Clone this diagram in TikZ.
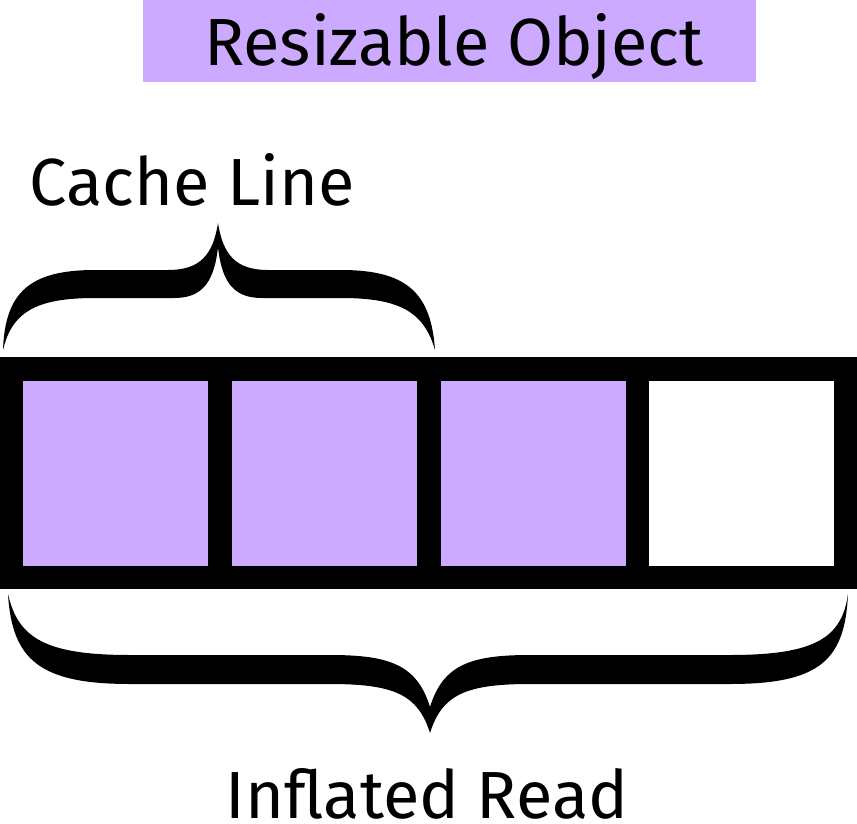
\documentclass[tikz,border=0pt]{standalone}
\usepackage{fontspec}
\setmainfont{Fira Sans}
\definecolor{purp}{HTML}{CCAAFF}
\begin{document}
\begin{tikzpicture}[x=0.75pt,y=-0.75pt,
  cell/.style={draw=none,minimum width=185*0.75pt,minimum height=185*0.75pt,inner sep=0pt},
  lbl/.style={font=\fontsize{50}{54}\selectfont,anchor=base,inner sep=0pt},
  brace/.style={fill=black,draw=none}]
\useasboundingbox (0,0) rectangle (857,824);
% title
\node[fill=purp,minimum width=613*0.75pt,minimum height=82*0.75pt,inner sep=0pt] (titlebox) at (449.5,41) {};
\node[lbl] (title) at (454,65) {Resizable Object};
% bar
\node[fill=black,minimum width=857*0.75pt,minimum height=232*0.75pt,inner sep=0pt] (bar) at (428.5,473) {};
\node[cell,fill=purp] (c1) at (115.5,473.5) {};
\node[cell,fill=purp] (c2) at (324.5,473.5) {};
\node[cell,fill=purp] (c3) at (533,473.5) {};
\node[cell,fill=white] (c4) at (741,473.5) {};
% top brace
\fill[brace] (3,350) .. controls (5,292) and (30,270) .. (95,270)
  -- (168,270) .. controls (200,270) and (213,255) .. (218,223)
  .. controls (223,255) and (236,270) .. (268,270)
  -- (341,270) .. controls (406,270) and (431,292) .. (435,350)
  .. controls (424,312) and (400,298) .. (341,298)
  -- (262,298) .. controls (236,298) and (222,285) .. (218,247)
  .. controls (214,285) and (200,298) .. (174,298)
  -- (95,298) .. controls (36,298) and (12,312) .. (3,350) -- cycle;
\node[lbl] (cache) at (192,205) {Cache Line};
% bottom brace
\fill[brace] (8,594) .. controls (12,660) and (40,684) .. (130,684)
  -- (330,684) .. controls (395,684) and (418,695) .. (430,733)
  .. controls (442,695) and (465,684) .. (530,684)
  -- (730,684) .. controls (820,684) and (845,660) .. (848,594)
  .. controls (842,638) and (815,655) .. (730,655)
  -- (530,655) .. controls (470,655) and (443,665) .. (430,707)
  .. controls (417,665) and (390,655) .. (330,655)
  -- (130,655) .. controls (45,655) and (18,638) .. (8,594) -- cycle;
\node[lbl,text depth=0pt] (inflated) at (427,818) {Inflated Read};
\end{tikzpicture}
\end{document}
